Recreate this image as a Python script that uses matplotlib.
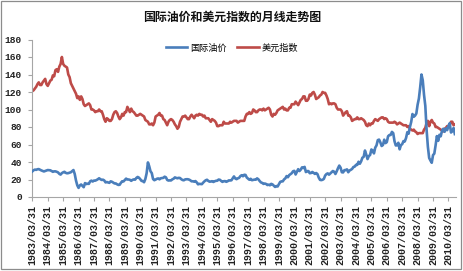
import matplotlib
matplotlib.use("Agg")
import matplotlib.pyplot as plt
from matplotlib.patches import Rectangle

plt.rcParams['font.family'] = ['Noto Sans CJK SC', 'DejaVu Sans']

title = "国际油价和美元指数的月线走势图"
series_names = ["国际油价", "美元指数"]
years = list(range(1983, 2011))
tick_labels = [f"{y}/03/31" for y in years]

# monthly values, 1983/03 .. 2010/08
oil = [
    29.3, 30.6, 31.3, 31.0, 31.7, 31.9, 31.1, 30.4, 29.8, 29.2,                 # 1983
    29.7, 30.1, 30.8, 30.6, 30.5, 29.6, 28.8, 29.3, 29.3, 28.8, 28.1, 26.5,     # 1984
    25.6, 27.3, 28.2, 28.8, 27.6, 27.1, 27.3, 27.8, 28.3, 29.5, 30.8, 26.3,     # 1985
    18.8, 13.3, 10.4, 13.3, 14.3, 12.8, 11.2, 15.9, 14.8, 15.2, 15.0, 17.9,     # 1986
    18.7, 17.7, 18.8, 18.7, 19.4, 20.3, 21.4, 20.3, 19.5, 19.8, 18.9, 16.7,     # 1987
    17.1, 16.7, 16.2, 17.9, 17.4, 16.5, 15.5, 15.5, 14.5, 13.8, 14.0, 16.3,     # 1988
    18.0, 17.8, 19.4, 21.0, 20.0, 20.0, 19.6, 18.5, 19.6, 20.1, 19.8, 21.8,     # 1989
    22.9, 22.1, 20.4, 18.4, 18.2, 16.9, 20.6, 27.2, 39.5, 35.2, 29.4, 27.3,     # 1990
    20.5, 19.2, 19.9, 20.8, 21.2, 20.2, 21.4, 21.7, 21.9, 23.2, 22.5, 19.5,     # 1991
    18.8, 19.0, 18.9, 20.2, 20.9, 22.4, 21.8, 21.4, 21.9, 21.7, 20.3, 19.4,     # 1992
    19.1, 20.1, 20.3, 20.3, 19.9, 19.1, 17.9, 18.0, 17.5, 18.2, 16.7, 14.5,     # 1993
    15.0, 14.8, 14.7, 16.4, 17.9, 19.1, 19.7, 18.4, 17.5, 17.7, 18.1, 17.2,     # 1994
    18.0, 18.5, 18.6, 19.9, 19.7, 18.4, 17.3, 18.0, 18.2, 17.4, 18.0, 19.0,     # 1995
    18.9, 19.1, 21.3, 23.5, 21.2, 20.4, 21.3, 21.9, 23.9, 24.9, 23.7, 25.4,     # 1996
    25.2, 22.2, 20.9, 19.7, 20.8, 19.2, 19.6, 19.9, 19.8, 21.3, 20.2, 18.3,     # 1997
    16.7, 16.1, 15.0, 15.4, 14.9, 13.7, 14.1, 13.4, 15.0, 14.4, 12.9, 11.5,     # 1998
    12.5, 12.0, 14.7, 17.3, 17.8, 17.9, 20.1, 21.3, 23.9, 22.6, 25.0, 26.1,     # 1999
    27.2, 29.4, 29.9, 25.7, 28.8, 31.8, 29.7, 31.3, 33.9, 33.1, 34.4, 28.5,     # 2000
    29.6, 29.6, 27.2, 27.4, 28.6, 27.6, 26.4, 27.4, 26.2, 22.2, 19.6, 19.3,     # 2001
    19.7, 20.7, 24.5, 26.2, 27.0, 25.5, 26.9, 28.4, 29.7, 28.9, 26.3, 29.4,     # 2002
    32.9, 35.9, 33.6, 28.3, 28.1, 30.7, 30.8, 31.6, 28.3, 30.3, 31.1, 32.1,     # 2003
    34.3, 34.7, 36.7, 36.7, 40.3, 38.0, 40.7, 44.9, 45.9, 53.1, 48.5, 43.3,     # 2004
    46.8, 48.0, 54.3, 53.0, 49.8, 56.4, 59.0, 65.0, 65.6, 62.4, 58.3, 59.4,     # 2005
    65.5, 61.6, 62.7, 69.4, 70.8, 70.9, 74.4, 73.0, 63.8, 58.9, 59.1, 62.0,     # 2006
    54.5, 59.3, 60.4, 63.9, 63.5, 67.5, 74.1, 72.4, 79.9, 85.8, 94.8, 91.7,     # 2007
    93.0, 95.4, 105.5, 112.6, 125.4, 140.0, 133.4, 116.7, 104.1, 76.6, 57.3, 44.6,  # 2008
    41.7, 39.1, 47.9, 49.6, 59.0, 69.6, 64.2, 71.1, 69.4, 75.7, 78.0, 74.5,     # 2009
    78.3, 76.4, 81.2, 84.3, 73.7, 75.3, 78.9, 71.9,                             # 2010
]

usd = [
    121, 122, 124, 126, 129, 131, 128, 128, 131, 133,                 # 1983
    135, 129, 127, 130, 133, 134, 139, 138, 145, 146, 143, 149,       # 1984
    152, 160, 152, 150, 149, 148, 140, 137, 130, 127, 124, 121,       # 1985
    118, 113, 115, 111, 115, 112, 106, 104, 105, 106, 107, 105,       # 1986
    100, 100, 99, 97, 98, 98, 100, 98, 98, 94, 89, 86,                # 1987
    90, 89, 87, 87, 89, 94, 97, 98, 96, 92, 89, 91,                   # 1988
    95, 93, 97, 97, 103, 100, 97, 101, 98, 97, 95, 93,                # 1989
    93, 94, 95, 94, 93, 92, 88, 87, 86, 83, 83, 84,                   # 1990
    82, 85, 92, 93, 94, 96, 93, 93, 89, 88, 85, 82,                   # 1991
    86, 88, 89, 88, 86, 83, 81, 78, 80, 86, 89, 92,                   # 1992
    92, 93, 91, 89, 89, 92, 94, 92, 90, 93, 94, 93,                   # 1993
    95, 94, 94, 92, 93, 90, 90, 90, 88, 86, 89, 88,                   # 1994
    87, 85, 81, 81, 82, 82, 82, 86, 84, 84, 84, 84,                   # 1995
    86, 85, 86, 87, 87, 87, 85, 86, 87, 87, 87, 87,                   # 1996
    92, 95, 95, 97, 95, 96, 100, 99, 97, 97, 99, 100,                 # 1997
    100, 99, 101, 99, 100, 101, 102, 100, 94, 92, 95, 94,             # 1998
    96, 99, 100, 101, 102, 103, 100, 101, 99, 99, 102, 102,           # 1999
    106, 106, 106, 109, 107, 105, 108, 111, 112, 115, 115, 110,       # 2000
    110, 112, 117, 116, 119, 120, 117, 112, 113, 114, 116, 117,       # 2001
    120, 119, 119, 116, 112, 106, 107, 106, 107, 107, 106, 102,       # 2002
    100, 100, 100, 98, 93, 95, 97, 98, 93, 93, 91, 87,                # 2003
    88, 89, 89, 91, 89, 89, 90, 89, 88, 86, 82, 81,                   # 2004
    84, 82, 84, 84, 87, 89, 88, 87, 89, 90, 91, 91,                   # 2005
    89, 90, 89, 86, 85, 85, 85, 85, 86, 85, 83, 84,                   # 2006
    85, 84, 83, 82, 82, 82, 80, 81, 78, 77, 76, 77,                   # 2007
    75, 74, 72, 73, 73, 73, 73, 77, 79, 85, 87, 81,                   # 2008
    86, 88, 85, 84, 80, 80, 79, 78, 77, 76, 75, 78,                   # 2009
    79, 81, 81, 82, 86, 86, 82, 83,                                   # 2010
]

W, H = 464, 271
fig = plt.figure(figsize=(W / 100, H / 100), dpi=100)
fig.patch.set_facecolor("white")

left, right, top, bottom = 31.7, 455.5, 39.5, 197.0
ax = fig.add_axes([left / W, 1 - bottom / H, (right - left) / W, (bottom - top) / H])

x = list(range(len(oil)))
blue = "#4A7EBB"
red = "#BE4B48"
l1, = ax.plot(x, oil, color=blue, lw=1.9, solid_joinstyle="round", label=series_names[0], zorder=3)
l2, = ax.plot(range(len(usd)), usd, color=red, lw=1.9, solid_joinstyle="round", label=series_names[1], zorder=2)

ax.set_xlim(-0.5, len(oil) - 0.5)
ax.set_ylim(0, 180)
ax.set_yticks(range(0, 181, 20))
ax.set_xticks([i * 12 for i in range(len(tick_labels))])
ax.set_xticklabels(tick_labels, rotation=90, fontfamily="Liberation Mono",
                   fontweight="bold", fontsize=7.2, color="#222222")
for lab in ax.get_yticklabels():
    lab.set_fontfamily("Liberation Mono")
    lab.set_fontweight("bold")
    lab.set_fontsize(6.8)
    lab.set_color("#222222")

for s in ["top", "right"]:
    ax.spines[s].set_visible(False)
for s in ["left", "bottom"]:
    ax.spines[s].set_color("#A6A6A6")
    ax.spines[s].set_linewidth(0.8)
ax.tick_params(axis="both", direction="out", length=3, width=0.8, color="#A6A6A6")
ax.tick_params(axis="y", pad=4)
ax.tick_params(axis="x", pad=3)

fig.text(232 / W, 1 - 17 / H, title, ha="center", va="center", fontsize=8.6,
         fontweight="bold", color="#111111")

fig.legend(handles=[l1, l2], loc="center", bbox_to_anchor=(232 / W, 1 - 48 / H),
           ncol=2, frameon=False, fontsize=6.6, handlelength=2.3, handletextpad=0.3,
           columnspacing=1.2, borderpad=0)

fig.add_artist(Rectangle((0.5 / W, 1 - 269 / H), 460.5 / W, 268 / H, transform=fig.transFigure,
                         fill=False, edgecolor="#8C8C8C", lw=0.9))

fig.savefig("out.png", dpi=100)
